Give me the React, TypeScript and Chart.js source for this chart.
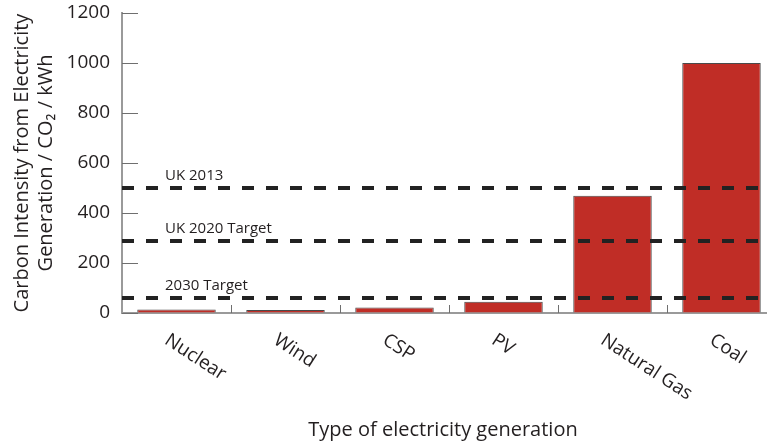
import React, { useEffect, useRef } from "react";
import { Chart, registerables } from "chart.js";

Chart.register(...registerables);

const categories = ["Nuclear", "Wind", "CSP", "PV", "Natural Gas", "Coal"];
const intensity = [14, 12, 22, 45, 469, 1000];
const refLabels = ["UK 2013", "UK 2020 Target", "2030 Target"];
const refValues = [500, 290, 60];
const yMin = 0;
const yMax = 1200;
const yStep = 200;
const yTitle = ["Carbon Intensity from Electricity", "Generation / CO\u2082 / kWh"];
const xTitle = "Type of electricity generation";

const FONT = "'Open Sans', 'DejaVu Sans', sans-serif";
const TEXT = "#231f20";
const AXIS = "#9a9a9a";

const overlay = {
  id: "overlay",
  afterDatasetsDraw(chart: any) {
    const { ctx, chartArea } = chart;
    const x = chart.scales.x;
    const y = chart.scales.y;
    ctx.save();
    // dashed reference lines
    ctx.strokeStyle = "#222";
    ctx.lineWidth = 4;
    ctx.setLineDash([12, 12]);
    refValues.forEach((v) => {
      const py = Math.round(y.getPixelForValue(v));
      ctx.beginPath();
      ctx.moveTo(chartArea.left, py);
      ctx.lineTo(chartArea.right, py);
      ctx.stroke();
    });
    ctx.setLineDash([]);
    // reference labels
    ctx.fillStyle = TEXT;
    ctx.font = `15px ${FONT}`;
    ctx.textAlign = "left";
    ctx.textBaseline = "alphabetic";
    refValues.forEach((v, i) => {
      const py = y.getPixelForValue(v);
      ctx.fillText(refLabels[i], chartArea.left + 43, py - 8);
    });
    // inward y ticks
    ctx.strokeStyle = "#6f6f6f";
    ctx.lineWidth = 1;
    for (let v = yMin; v <= yMax; v += yStep) {
      const py = Math.round(y.getPixelForValue(v)) + 0.5;
      ctx.beginPath();
      ctx.moveTo(chartArea.left, py);
      ctx.lineTo(chartArea.left + 16, py);
      ctx.stroke();
    }
    // category dividers
    for (let i = 0; i < categories.length; i++) {
      const a = x.getPixelForValue(i);
      const b = i + 1 < categories.length ? x.getPixelForValue(i + 1) : a + (a - x.getPixelForValue(i - 1));
      const px = Math.round((a + b) / 2) + 0.5;
      ctx.beginPath();
      ctx.moveTo(px, chartArea.bottom);
      ctx.lineTo(px, chartArea.bottom - 8);
      ctx.stroke();
    }
    // rotated category labels
    ctx.fillStyle = TEXT;
    ctx.font = `19px ${FONT}`;
    ctx.textAlign = "left";
    ctx.textBaseline = "alphabetic";
    categories.forEach((c, i) => {
      const px = x.getPixelForValue(i);
      ctx.save();
      ctx.translate(px - 13, chartArea.bottom + 30);
      ctx.rotate((33 * Math.PI) / 180);
      ctx.fillText(c, 0, 0);
      ctx.restore();
    });
    // x title
    ctx.font = `20px ${FONT}`;
    ctx.textAlign = "center";
    ctx.textBaseline = "middle";
    ctx.fillText(xTitle, 443, 430);
    ctx.restore();
  },
};

export default function App() {
  const ref = useRef<HTMLCanvasElement | null>(null);
  useEffect(() => {
    if (!ref.current) return;
    const chart = new Chart(ref.current, {
      type: "bar",
      data: {
        labels: categories,
        datasets: [
          {
            data: intensity,
            backgroundColor: "#c02d26",
            borderColor: "#4a4a4a",
            borderWidth: 1,
            categoryPercentage: 1,
            barPercentage: 0.72,
          },
        ],
      },
      options: {
        responsive: false,
        animation: false,
        layout: { padding: 0 },
        plugins: { legend: { display: false }, tooltip: { enabled: false } },
        scales: {
          x: {
            grid: { display: false, drawTicks: false },
            border: { display: true, color: AXIS, width: 2 },
            ticks: { display: false },
            afterFit: (s: any) => {
              s.height = 130;
              s.paddingLeft = 0;
              s.paddingRight = 0;
            },
          },
          y: {
            min: yMin,
            max: yMax,
            grid: { drawOnChartArea: false, drawTicks: false },
            border: { display: true, color: AXIS, width: 2 },
            ticks: {
              stepSize: yStep,
              padding: 12,
              color: TEXT,
              font: { family: FONT, size: 19 },
              callback: (v: any) => String(v),
            },
            title: {
              display: true,
              text: yTitle,
              color: TEXT,
              font: { family: FONT, size: 20, lineHeight: 1.2 },
              padding: { top: 10, bottom: 0 },
            },
            afterFit: (s: any) => {
              s.width = 122;
              s.paddingTop = 13;
              s.paddingBottom = 0;
            },
          },
        },
      },
      plugins: [overlay],
    });
    return () => chart.destroy();
  }, []);
  return (
    <div style={{ position: "fixed", left: 0, top: 0, width: 776, height: 443, background: "#fff" }}>
      <canvas ref={ref} width={776} height={443} style={{ display: "block" }} />
    </div>
  );
}
